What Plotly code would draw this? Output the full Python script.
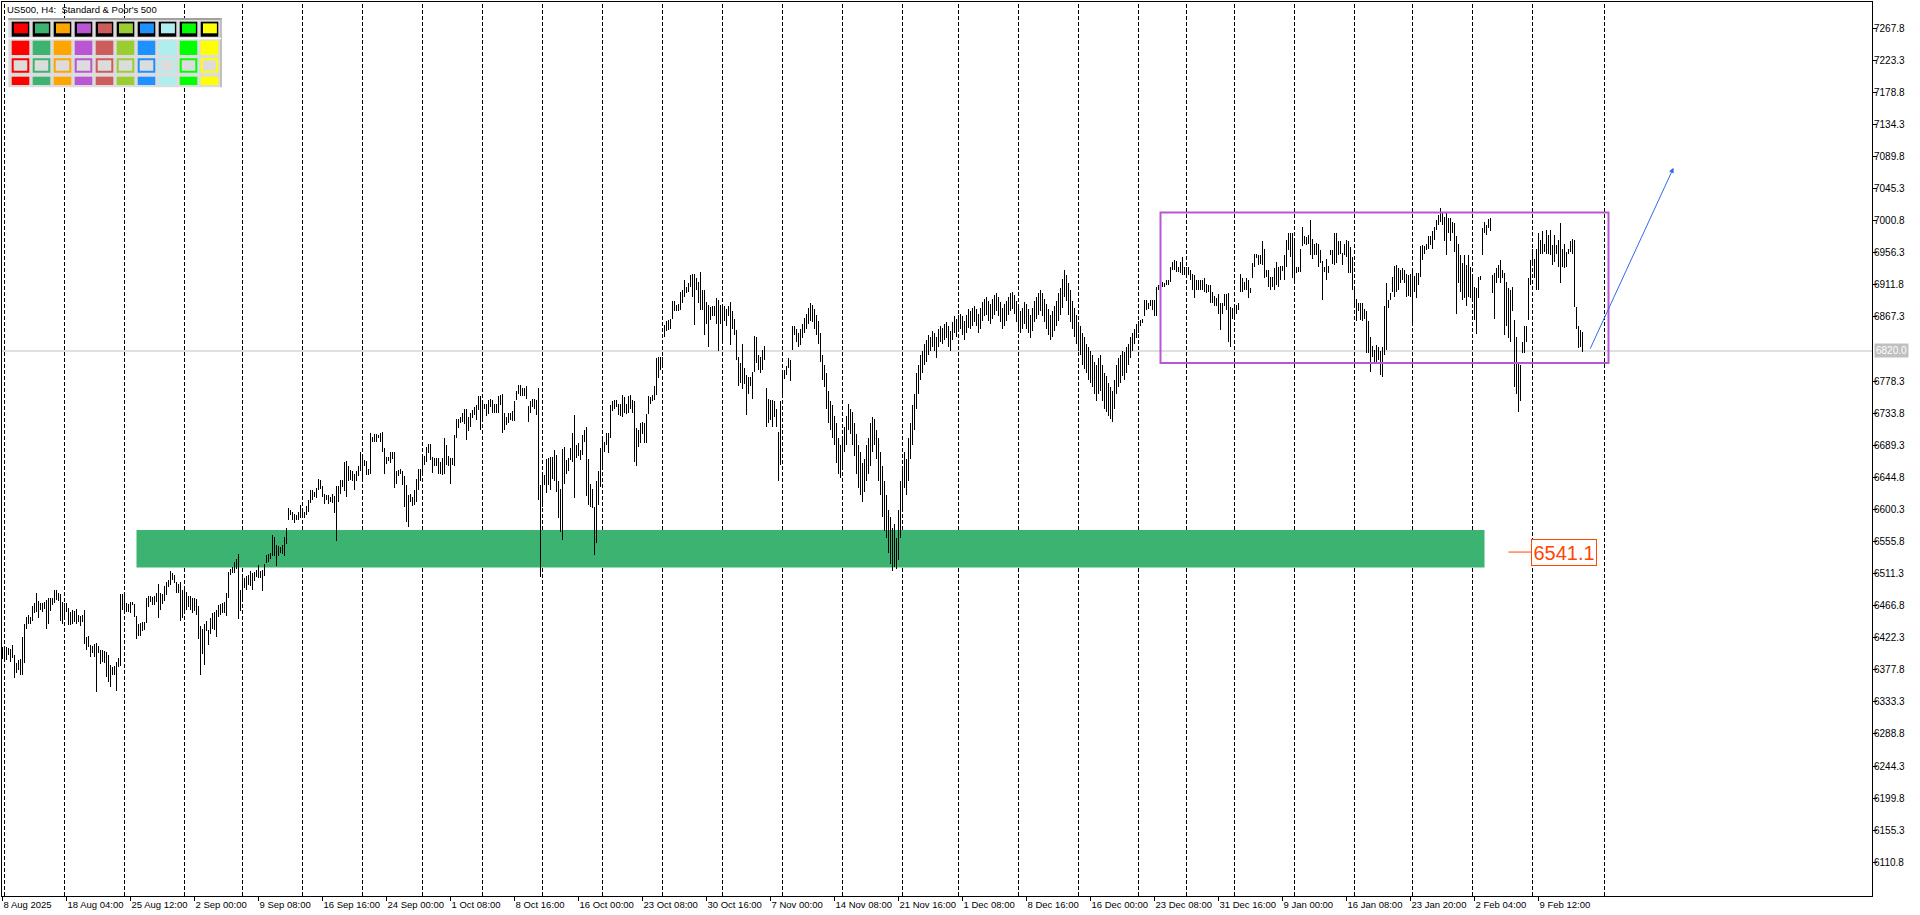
import plotly.graph_objects as go

symbol_title = "US500, H4:  Standard & Poor's 500"

# bar high / low prices, one entry per H4 bar (index 0 = leftmost bar)
bar_high = [
    6409, 6410, 6409, 6408, 6406, 6412, 6398, 6387, 6391, 6393,
    6423, 6441, 6451, 6454, 6451, 6466, 6471, 6485, 6473, 6471,
    6470, 6472, 6475, 6477, 6477, 6477, 6488, 6489, 6485, 6483,
    6472, 6471, 6470, 6463, 6458, 6461, 6460, 6462, 6454, 6452,
    6454, 6461, 6423, 6424, 6412, 6411, 6414, 6415, 6411, 6405,
    6405, 6404, 6403, 6398, 6384, 6382, 6383, 6389, 6394, 6483,
    6483, 6480, 6470, 6469, 6472, 6472, 6469, 6452, 6442, 6443,
    6444, 6444, 6478, 6480, 6480, 6479, 6480, 6485, 6497, 6484,
    6483, 6494, 6499, 6503, 6515, 6512, 6509, 6500, 6497, 6500,
    6488, 6488, 6486, 6480, 6480, 6478, 6477, 6476, 6466, 6438,
    6435, 6442, 6445, 6433, 6450, 6456, 6458, 6461, 6468, 6469,
    6470, 6472, 6485, 6514, 6518, 6521, 6527, 6531, 6538, 6488,
    6505, 6505, 6508, 6509, 6515, 6512, 6514, 6516, 6523, 6515,
    6516, 6524, 6537, 6538, 6540, 6565, 6562, 6551, 6550, 6548,
    6551, 6562, 6575, 6602, 6599, 6596, 6594, 6592, 6597, 6606,
    6602, 6597, 6605, 6613, 6627, 6627, 6625, 6630, 6643, 6641,
    6633, 6622, 6620, 6620, 6618, 6622, 6619, 6633, 6633, 6641,
    6641, 6666, 6667, 6660, 6655, 6653, 6649, 6654, 6660, 6680,
    6671, 6669, 6667, 6657, 6706, 6701, 6705, 6705, 6704, 6706,
    6708, 6685, 6673, 6673, 6680, 6680, 6680, 6653, 6655, 6657,
    6653, 6646, 6634, 6620, 6622, 6618, 6627, 6643, 6656, 6657,
    6672, 6674, 6687, 6691, 6691, 6673, 6672, 6671, 6672, 6666,
    6672, 6699, 6690, 6674, 6672, 6671, 6703, 6725, 6725, 6728,
    6734, 6739, 6740, 6729, 6734, 6738, 6743, 6745, 6757, 6758,
    6750, 6747, 6747, 6752, 6754, 6752, 6747, 6747, 6757, 6759,
    6761, 6734, 6729, 6734, 6734, 6737, 6750, 6764, 6773, 6773,
    6768, 6768, 6771, 6744, 6750, 6753, 6753, 6752, 6768, 6634,
    6647, 6648, 6670, 6671, 6673, 6673, 6683, 6676, 6639, 6629,
    6684, 6687, 6669, 6672, 6685, 6706, 6731, 6690, 6692, 6683,
    6703, 6710, 6715, 6670, 6636, 6629, 6604, 6639, 6653, 6685,
    6697, 6694, 6706, 6706, 6745, 6750, 6752, 6752, 6746, 6746,
    6759, 6756, 6747, 6758, 6759, 6752, 6751, 6713, 6711, 6720,
    6722, 6720, 6733, 6757, 6756, 6759, 6771, 6810, 6812, 6812,
    6812, 6856, 6862, 6863, 6865, 6890, 6890, 6884, 6885, 6902,
    6905, 6919, 6909, 6915, 6925, 6927, 6927, 6921, 6916, 6929,
    6905, 6904, 6888, 6884, 6881, 6882, 6882, 6894, 6891, 6884,
    6879, 6882, 6878, 6882, 6888, 6875, 6865, 6849, 6812, 6803,
    6830, 6797, 6787, 6784, 6784, 6791, 6841, 6840, 6814, 6812,
    6821, 6827, 6768, 6753, 6752, 6752, 6750, 6740, 6708, 6750,
    6789, 6794, 6799, 6810, 6808, 6854, 6854, 6851, 6845, 6850,
    6858, 6866, 6872, 6880, 6886, 6884, 6878, 6870, 6862, 6845,
    6815, 6800, 6790, 6765, 6750, 6745, 6730, 6720, 6700, 6690,
    6700, 6715, 6730, 6746, 6740, 6735, 6720, 6705, 6690, 6680,
    6665, 6670, 6690, 6700, 6720, 6728, 6725, 6710, 6700, 6680,
    6660, 6640, 6620, 6600, 6590, 6575, 6580, 6560, 6600, 6640,
    6660, 6680, 6670, 6700, 6720, 6745, 6760, 6790, 6800, 6815,
    6820, 6830, 6835, 6842, 6840, 6848, 6845, 6840, 6850, 6855,
    6852, 6858, 6860, 6855, 6848, 6860, 6868, 6865, 6870, 6872,
    6868, 6862, 6870, 6878, 6875, 6880, 6882, 6878, 6872, 6880,
    6888, 6892, 6895, 6890, 6885, 6892, 6898, 6900, 6895, 6888,
    6880, 6885, 6890, 6895, 6900, 6902, 6898, 6890, 6882, 6875,
    6880, 6888, 6885, 6878, 6870, 6880, 6890, 6895, 6900, 6905,
    6900, 6892, 6885, 6878, 6870, 6875, 6882, 6890, 6900, 6908,
    6920, 6933, 6925, 6915, 6905, 6890, 6880, 6870, 6860, 6855,
    6845, 6840, 6830, 6825, 6820, 6815, 6805, 6800, 6810, 6815,
    6800, 6790, 6785, 6775, 6770, 6765, 6780, 6800, 6810, 6815,
    6820, 6818, 6825, 6830, 6840, 6845, 6850, 6858, 6862, 6863,
    6865, 6891, 6891, 6886, 6891, 6891, 6891, 6909, 6912, 6914,
    6916, 6915, 6918, 6918, 6937, 6944, 6946, 6945, 6937, 6943,
    6951, 6936, 6937, 6936, 6933, 6927, 6925, 6918, 6918, 6918,
    6919, 6921, 6913, 6912, 6912, 6902, 6896, 6894, 6899, 6886,
    6887, 6899, 6899, 6900, 6881, 6879, 6881, 6884, 6886, 6927,
    6921, 6916, 6921, 6919, 6907, 6942, 6955, 6955, 6953, 6953,
    6972, 6961, 6932, 6933, 6922, 6922, 6935, 6943, 6937, 6938,
    6938, 6953, 6974, 6983, 6983, 6983, 6974, 6937, 6936, 6961,
    6992, 6979, 6978, 6981, 7002, 6976, 6969, 6970, 6969, 6960,
    6945, 6937, 6948, 6938, 6960, 6960, 6984, 6984, 6972, 6972,
    6956, 6969, 6974, 6972, 6964, 6951, 6905, 6892, 6886, 6886,
    6886, 6878, 6875, 6862, 6840, 6827, 6822, 6828, 6826, 6820,
    6826, 6882, 6914, 6891, 6900, 6923, 6938, 6939, 6935, 6932,
    6935, 6933, 6927, 6925, 6927, 6935, 6924, 6928, 6928, 6965,
    6967, 6965, 6969, 6979, 6979, 6986, 6992, 7002, 7009, 7018,
    7011, 7006, 7011, 7004, 7004, 6999, 6997, 6979, 6969, 6953,
    6942, 6953, 6939, 6953, 6937, 6921, 6909, 6907, 6923, 6924,
    6990, 6999, 6995, 7003, 7004, 6925, 6928, 6935, 6939, 6946,
    6932, 6928, 6916, 6907, 6905, 6909, 6863, 6840, 6803, 6801,
    6833, 6854, 6854, 6921, 6946, 6962, 6948, 6962, 6983, 6974,
    6986, 6969, 6988, 6981, 6988, 6967, 6981, 6967, 6974, 6997,
    6962, 6969, 6958, 6962, 6972, 6976, 6974, 6881, 6854, 6849,
    6847,
]
bar_low = [
    6393, 6394, 6391, 6398, 6389, 6394, 6367, 6374, 6378, 6371,
    6371, 6387, 6434, 6442, 6441, 6445, 6456, 6458, 6449, 6461,
    6458, 6462, 6434, 6442, 6460, 6468, 6471, 6475, 6473, 6445,
    6442, 6447, 6458, 6440, 6440, 6442, 6444, 6442, 6444, 6439,
    6444, 6413, 6405, 6410, 6395, 6401, 6396, 6347, 6401, 6386,
    6389, 6387, 6368, 6361, 6354, 6371, 6371, 6349, 6382, 6383,
    6461, 6458, 6458, 6458, 6456, 6467, 6451, 6420, 6424, 6424,
    6432, 6433, 6443, 6465, 6472, 6468, 6468, 6472, 6449, 6461,
    6469, 6473, 6481, 6493, 6495, 6502, 6498, 6484, 6485, 6446,
    6449, 6458, 6461, 6465, 6461, 6457, 6460, 6454, 6421, 6370,
    6400, 6385, 6432, 6412, 6428, 6434, 6433, 6423, 6451, 6454,
    6456, 6456, 6452, 6477, 6509, 6512, 6512, 6517, 6448, 6460,
    6477, 6491, 6489, 6495, 6494, 6488, 6501, 6506, 6505, 6505,
    6487, 6508, 6526, 6528, 6531, 6535, 6536, 6522, 6536, 6540,
    6538, 6535, 6552, 6586, 6592, 6586, 6581, 6585, 6585, 6588,
    6592, 6588, 6592, 6597, 6609, 6613, 6617, 6616, 6627, 6628,
    6618, 6608, 6613, 6608, 6611, 6609, 6595, 6557, 6611, 6622,
    6631, 6626, 6618, 6639, 6641, 6639, 6627, 6639, 6646, 6654,
    6643, 6660, 6648, 6648, 6650, 6694, 6694, 6694, 6699, 6694,
    6680, 6650, 6663, 6667, 6664, 6670, 6630, 6636, 6646, 6649,
    6634, 6604, 6583, 6576, 6610, 6605, 6606, 6611, 6627, 6639,
    6651, 6662, 6666, 6679, 6669, 6651, 6660, 6660, 6650, 6649,
    6648, 6649, 6662, 6660, 6636, 6662, 6660, 6699, 6713, 6720,
    6722, 6719, 6697, 6709, 6715, 6727, 6731, 6724, 6738, 6711,
    6725, 6739, 6730, 6733, 6743, 6734, 6734, 6734, 6734, 6745,
    6706, 6710, 6717, 6720, 6724, 6723, 6723, 6752, 6761, 6757,
    6757, 6757, 6754, 6722, 6734, 6743, 6739, 6731, 6614, 6507,
    6604, 6634, 6623, 6634, 6627, 6643, 6639, 6625, 6588, 6569,
    6558, 6636, 6650, 6653, 6669, 6666, 6616, 6671, 6674, 6669,
    6676, 6694, 6619, 6606, 6604, 6602, 6537, 6554, 6606, 6632,
    6660, 6680, 6690, 6679, 6699, 6737, 6740, 6743, 6731, 6730,
    6728, 6734, 6733, 6734, 6740, 6734, 6666, 6660, 6687, 6693,
    6705, 6693, 6693, 6733, 6746, 6750, 6752, 6759, 6783, 6794,
    6796, 6840, 6848, 6849, 6851, 6865, 6875, 6875, 6875, 6877,
    6886, 6895, 6900, 6902, 6909, 6895, 6856, 6905, 6886, 6877,
    6877, 6842, 6858, 6826, 6863, 6869, 6868, 6858, 6820, 6858,
    6832, 6861, 6854, 6868, 6828, 6851, 6842, 6808, 6771, 6776,
    6767, 6774, 6731, 6761, 6771, 6754, 6791, 6803, 6794, 6789,
    6794, 6808, 6715, 6720, 6724, 6715, 6729, 6715, 6639, 6662,
    6757, 6781, 6787, 6797, 6779, 6822, 6842, 6833, 6826, 6828,
    6838, 6845, 6850, 6858, 6862, 6860, 6850, 6842, 6830, 6805,
    6780, 6770, 6740, 6720, 6710, 6700, 6690, 6665, 6650, 6644,
    6660, 6680, 6690, 6710, 6705, 6690, 6675, 6650, 6630, 6620,
    6610, 6625, 6640, 6650, 6660, 6680, 6690, 6670, 6640, 6620,
    6590, 6570, 6560, 6540, 6525, 6515, 6520, 6517, 6530, 6560,
    6600, 6630, 6620, 6640, 6670, 6690, 6710, 6740, 6760, 6780,
    6790, 6800, 6805, 6815, 6820, 6825, 6820, 6810, 6825, 6832,
    6830, 6835, 6838, 6825, 6820, 6835, 6845, 6840, 6848, 6850,
    6842, 6835, 6845, 6852, 6850, 6855, 6860, 6855, 6845, 6850,
    6862, 6868, 6870, 6862, 6858, 6865, 6870, 6875, 6868, 6860,
    6850, 6855, 6862, 6870, 6875, 6878, 6872, 6860, 6852, 6845,
    6850, 6858, 6850, 6845, 6838, 6848, 6860, 6865, 6870, 6875,
    6868, 6860, 6850, 6842, 6835, 6840, 6848, 6855, 6862, 6870,
    6880, 6895, 6890, 6870, 6860, 6850, 6840, 6830, 6820, 6815,
    6800, 6795, 6790, 6780, 6775, 6770, 6760, 6750, 6760, 6765,
    6750, 6740, 6735, 6730, 6725, 6721, 6740, 6760, 6770, 6775,
    6785, 6780, 6790, 6800, 6810, 6820, 6830, 6838, 6845, 6854,
    6859, 6868, 6877, 6878, 6882, 6877, 6868, 6868, 6905, 6908,
    6909, 6909, 6912, 6912, 6916, 6932, 6932, 6930, 6930, 6928,
    6925, 6925, 6923, 6925, 6918, 6905, 6894, 6905, 6905, 6905,
    6905, 6902, 6900, 6902, 6886, 6886, 6882, 6882, 6872, 6849,
    6872, 6882, 6877, 6833, 6826, 6865, 6868, 6872, 6877, 6902,
    6902, 6905, 6905, 6893, 6900, 6921, 6936, 6949, 6939, 6941,
    6939, 6921, 6922, 6909, 6905, 6909, 6905, 6912, 6909, 6918,
    6931, 6918, 6937, 6960, 6951, 6921, 6918, 6928, 6929, 6929,
    6965, 6969, 6967, 6969, 6953, 6948, 6953, 6953, 6936, 6942,
    6891, 6930, 6918, 6928, 6953, 6941, 6939, 6942, 6953, 6955,
    6939, 6953, 6951, 6928, 6928, 6905, 6884, 6861, 6875, 6863,
    6861, 6865, 6817, 6817, 6791, 6812, 6803, 6803, 6807, 6787,
    6784, 6814, 6821, 6879, 6891, 6902, 6895, 6902, 6905, 6915,
    6918, 6915, 6895, 6896, 6895, 6858, 6902, 6893, 6912, 6923,
    6946, 6955, 6960, 6962, 6967, 6962, 6974, 6988, 6995, 6999,
    6995, 6972, 6953, 6983, 6972, 6983, 6958, 6872, 6914, 6902,
    6891, 6893, 6882, 6895, 6893, 6891, 6863, 6844, 6893, 6918,
    6953, 6983, 6981, 6990, 6986, 6900, 6865, 6914, 6921, 6914,
    6921, 6842, 6854, 6838, 6833, 6875, 6770, 6760, 6735, 6750,
    6817, 6817, 6833, 6863, 6912, 6942, 6921, 6905, 6905, 6955,
    6955, 6958, 6955, 6955, 6953, 6939, 6944, 6955, 6937, 6915,
    6937, 6935, 6937, 6955, 6958, 6955, 6881, 6851, 6824, 6826,
    6819,
]

time_labels = [
    "8 Aug 2025", "18 Aug 04:00", "25 Aug 12:00", "2 Sep 00:00", "9 Sep 08:00",
    "16 Sep 16:00", "24 Sep 00:00", "1 Oct 08:00", "8 Oct 16:00", "16 Oct 00:00",
    "23 Oct 08:00", "30 Oct 16:00", "7 Nov 00:00", "14 Nov 08:00", "21 Nov 16:00",
    "1 Dec 08:00", "8 Dec 16:00", "16 Dec 00:00", "23 Dec 08:00", "31 Dec 16:00",
    "9 Jan 00:00", "16 Jan 08:00", "23 Jan 20:00", "2 Feb 04:00", "9 Feb 12:00",
]
bars_per_label = 32

# bar index of the first bar of each trading week (period separators)
week_starts = [1, 31, 61, 91, 120, 150, 180, 210, 240, 270, 300, 330, 360, 390,
               420, 450, 478, 508, 538, 568, 592, 616, 646, 676, 705, 735, 765, 801]

price_ticks = [7267.8, 7223.3, 7178.8, 7134.3, 7089.8, 7045.3, 7000.8, 6956.3,
               6911.8, 6867.3, 6778.3, 6733.8, 6689.3, 6644.8, 6600.3, 6555.8,
               6511.3, 6466.8, 6422.3, 6377.8, 6333.3, 6288.8, 6244.3, 6199.8,
               6155.3, 6110.8]

bid_price = 6820.0
zone_low, zone_high = 6519.6, 6571.8
zone_first_bar, zone_last_bar = 67, 741
zone_level = 6541.1
range_first_bar, range_last_bar = 579, 803
range_low, range_high = 6803.5, 7012.0
arrow_start = (793.5, 6821.1)
arrow_end = (835.5, 7074.1)

palette = ["#FF0000", "#3CB371", "#FFA500", "#BA55D3", "#CD5C5C",
           "#9ACD32", "#1E90FF", "#AFEEEE", "#00FF00", "#FFFF00"]

# ---------------------------------------------------------------- layout geometry
W, H = 1920, 915
ML, MR, MT, MB = 2, 48, 2, 19
PW, PH = W - ML - MR, H - MT - MB
FONT = "Liberation Sans, Arial, sans-serif"


def px(x):
    return (x - ML) / PW


def py(y):
    return 1 - (y - MT) / PH


n = min(len(bar_high), len(bar_low))
xs, ys = [], []
for i in range(n):
    xs += [i, i, None]
    ys += [bar_low[i], bar_high[i], None]

fig = go.Figure()
fig.add_trace(go.Scatter(x=xs, y=ys, mode="lines",
                         line=dict(color="#000000", width=1),
                         hoverinfo="skip", showlegend=False))

shapes = []
# support zone
shapes.append(dict(type="rect", xref="x", yref="y", x0=zone_first_bar, x1=zone_last_bar,
                   y0=zone_low, y1=zone_high, fillcolor="#3CB371",
                   line=dict(width=0), layer="below"))
# weekly separators
for s in week_starts:
    shapes.append(dict(type="line", xref="x", yref="paper", x0=s, x1=s, y0=0, y1=1,
                       line=dict(color="#000000", width=1, dash="4px,2px"), layer="below"))
# bid line
shapes.append(dict(type="line", xref="paper", yref="y", x0=0, x1=1, y0=bid_price, y1=bid_price,
                   line=dict(color="#C0C0C0", width=1), layer="below"))
# range rectangle
shapes.append(dict(type="rect", xref="x", yref="y", x0=range_first_bar, x1=range_last_bar,
                   y0=range_low, y1=range_high, line=dict(color="#BA55D3", width=2),
                   fillcolor="rgba(0,0,0,0)"))
# zone level label connector
shapes.append(dict(type="line", xref="x", yref="y", x0=753, x1=764.4, y0=zone_level, y1=zone_level,
                   line=dict(color="#FF4500", width=1)))

# colour palette panel (top-left)
shapes.append(dict(type="rect", xref="paper", yref="paper", x0=px(8.3), x1=px(221.7),
                   y0=py(87.3), y1=py(18.3), fillcolor="#DCDCDC", line=dict(width=0)))
shapes.append(dict(type="line", xref="paper", yref="paper", x0=px(8.3), x1=px(221.7),
                   y0=py(19), y1=py(19), line=dict(color="#A0A0A0", width=2)))
shapes.append(dict(type="line", xref="paper", yref="paper", x0=px(221), x1=px(221),
                   y0=py(87.3), y1=py(18.3), line=dict(color="#B4B4B4", width=1.5)))
shapes.append(dict(type="line", xref="paper", yref="paper", x0=px(8.3), x1=px(221),
                   y0=py(38.6), y1=py(38.6), line=dict(color="#FFFFFF", width=1.5)))
for k, c in enumerate(palette):
    x0 = 11.7 + 21 * k
    x1 = x0 + 17.6
    # row 1: black framed swatch
    shapes.append(dict(type="rect", xref="paper", yref="paper", x0=px(x0), x1=px(x1),
                       y0=py(36.7), y1=py(21.7), fillcolor="#000000", line=dict(width=0)))
    shapes.append(dict(type="rect", xref="paper", yref="paper", x0=px(x0 + 2.3), x1=px(x1 - 1.4),
                       y0=py(33.3), y1=py(23.4), fillcolor=c, line=dict(width=0)))
    # row 2: solid
    shapes.append(dict(type="rect", xref="paper", yref="paper", x0=px(x0), x1=px(x1),
                       y0=py(55), y1=py(40.7), fillcolor=c, line=dict(width=0)))
    # row 3: outlined
    shapes.append(dict(type="rect", xref="paper", yref="paper", x0=px(x0 + 1), x1=px(x1 - 1),
                       y0=py(71.7), y1=py(59.3), fillcolor="#DCDCDC",
                       line=dict(color=c, width=2)))
    # row 4: thin solid
    shapes.append(dict(type="rect", xref="paper", yref="paper", x0=px(x0), x1=px(x1),
                       y0=py(85), y1=py(76.7), fillcolor=c, line=dict(width=0)))

annotations = [
    dict(xref="paper", yref="paper", x=px(5), y=py(9), xanchor="left", yanchor="middle",
         text=symbol_title, showarrow=False, font=dict(family=FONT, size=9.5, color="#000000")),
    dict(xref="paper", yref="y", x=px(1874.5), y=bid_price, xanchor="left", yanchor="middle",
         text=f"{bid_price:.1f}", showarrow=False, bgcolor="#C0C0C0", borderpad=1,
         font=dict(family=FONT, size=10, color="#FFFFFF")),
    dict(xref="x", yref="y", x=764.4, y=zone_level, xanchor="left", yanchor="middle",
         text=f"{zone_level:.1f}", showarrow=False, bgcolor="#FFFFFF",
         bordercolor="#FF4500", borderwidth=1, borderpad=1, width=62, height=23,
         font=dict(family=FONT, size=20, color="#FF4500")),
    dict(xref="x", yref="y", x=arrow_end[0], y=arrow_end[1], axref="x", ayref="y",
         ax=arrow_start[0], ay=arrow_start[1], text="", showarrow=True,
         arrowhead=2, arrowsize=1, arrowwidth=1, arrowcolor="#2F6BEF"),
]

fig.update_layout(
    width=W, height=H,
    margin=dict(l=ML, r=MR, t=MT, b=MB, pad=0, autoexpand=False),
    paper_bgcolor="#FFFFFF", plot_bgcolor="#FFFFFF",
    showlegend=False,
    shapes=shapes, annotations=annotations,
    xaxis=dict(range=[-0.25, PW / 2 - 0.25], showgrid=False, zeroline=False,
               automargin=False, tickangle=0,
               tickmode="array", tickvals=[k * bars_per_label for k in range(len(time_labels))],
               ticktext=time_labels, ticks="outside", ticklen=4, tickwidth=1,
               tickcolor="#000000", ticklabelposition="outside right",
               ticklabeloverflow="allow",
               tickfont=dict(family=FONT, size=9.5, color="#000000"),
               showline=True, linecolor="#000000", linewidth=1, mirror=True, fixedrange=True),
    yaxis=dict(range=[6064.0, 7304.1], side="right", showgrid=False, zeroline=False,
               automargin=False,
               tickmode="array", tickvals=price_ticks,
               ticktext=[f"{v:.1f}" for v in price_ticks],
               ticks="outside", ticklen=4, tickwidth=1, tickcolor="#000000",
               ticklabeloverflow="allow", ticklabelstandoff=-5,
               tickfont=dict(family=FONT, size=10, color="#000000"),
               showline=True, linecolor="#000000", linewidth=1, mirror=True, fixedrange=True),
)

fig.write_html(
    "out.html",
    config={"displayModeBar": False, "staticPlot": True},
    post_script=(
        "document.body.style.margin='0px';document.body.style.overflow='hidden';"
        "document.querySelectorAll('.scatterlayer path.js-line').forEach("
        "function(p){p.style.shapeRendering='crispEdges';});"
    ),
)
